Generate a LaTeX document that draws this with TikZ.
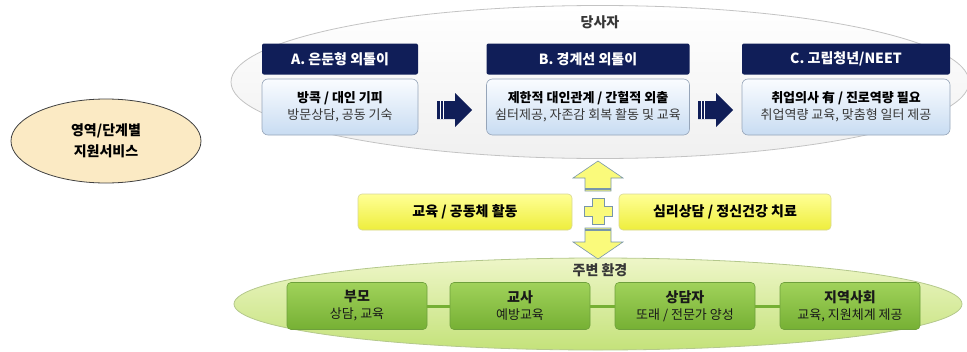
\documentclass[tikz,border=0pt]{standalone}
\usepackage{fontspec}
\setmainfont{Noto Sans CJK KR}
\usetikzlibrary{shapes.geometric}
\definecolor{navy}{RGB}{16,30,88}
\definecolor{bodytop}{RGB}{250,252,255}
\definecolor{bodybot}{RGB}{200,220,242}
\definecolor{bodyline}{RGB}{150,165,185}
\definecolor{ellgrey}{RGB}{240,240,240}
\definecolor{ellline}{RGB}{195,195,195}
\definecolor{peach}{RGB}{251,234,196}
\definecolor{yeltop}{RGB}{255,255,150}
\definecolor{yelbot}{RGB}{238,238,60}
\definecolor{yelline}{RGB}{215,215,150}
\definecolor{arrline}{RGB}{120,150,170}
\definecolor{grntop}{RGB}{238,246,200}
\definecolor{grnbot}{RGB}{196,226,122}
\definecolor{grnline}{RGB}{180,200,140}
\definecolor{boxtop}{RGB}{160,210,90}
\definecolor{boxbot}{RGB}{118,176,52}
\definecolor{boxline}{RGB}{110,160,60}
\definecolor{txtgrey}{RGB}{55,55,55}
\tikzset{
  hdr/.style={fill=navy, text=white, font=\bfseries\fontsize{14}{16}\selectfont,
    minimum height=31pt, rounded corners=2pt, inner sep=0pt},
  bodybox/.style={top color=bodytop, bottom color=bodybot, draw=bodyline, line width=0.6pt,
    rounded corners=6pt, minimum height=56pt, align=center, inner sep=0pt,
    font=\fontsize{13}{17}\selectfont},
  navyarrow/.style={fill=navy},
  yelbox/.style={top color=yeltop, bottom color=yelbot, draw=yelline, line width=0.6pt,
    rounded corners=4pt, minimum height=36pt, inner sep=0pt,
    font=\bfseries\fontsize{14}{16}\selectfont},
  yelarrow/.style={fill=yeltop!70!yelbot, draw=arrline, line width=0.6pt},
  grnbox/.style={top color=boxtop, bottom color=boxbot, draw=boxline, line width=0.6pt,
    rounded corners=4pt, minimum width=140pt, minimum height=47pt, align=center, inner sep=0pt,
    font=\fontsize{13}{17}\selectfont, text=black!90},
  elllabel/.style={font=\bfseries\fontsize{14}{16}\selectfont, text=txtgrey},
}
\begin{document}
\begin{tikzpicture}[x=1pt,y=-1pt]
\useasboundingbox (0,0) rectangle (967,351);

% top ellipse
\node[ellipse, minimum width=738pt, minimum height=153pt, inner sep=0pt,
  top color=white, bottom color=ellgrey, draw=ellline, line width=0.8pt] (topell) at (600,82) {};
\node[elllabel] (tlabel) at (600,22) {당사자};

% headers
\node[hdr, minimum width=156pt] (ha) at (340,59) {A. 은둔형 외톨이};
\node[hdr, minimum width=203pt] (hb) at (588,59) {B. 경계선 외톨이};
\node[hdr, minimum width=208pt] (hc) at (846,59) {C. 고립청년/NEET};

% bodies
\node[bodybox, minimum width=156pt] (ba) at (340,107)
  {\textbf{방콕 / 대인 기피}\\\textcolor{txtgrey}{방문상담, 공동 기숙}};
\node[bodybox, minimum width=203pt] (bb) at (588,107)
  {\textbf{제한적 대인관계 / 간헐적 외출}\\\textcolor{txtgrey}{쉼터제공, 자존감 회복 활동 및 교육}};
\node[bodybox, minimum width=208pt] (bc) at (846,107)
  {\textbf{취업의사 有 / 진로역량 필요}\\\textcolor{txtgrey}{취업역량 교육, 맞춤형 일터 제공}};

% navy arrows
\foreach \x/\n in {437/a1,698/a2}{
  \fill[navyarrow] (\x,101) -- (\x+18,101) -- (\x+18,93) -- (\x+35,110) -- (\x+18,127) -- (\x+18,119) -- (\x,119) -- cycle;
  \draw[white, line width=0.8pt] (\x+3,101) -- (\x+3,119) (\x+6,101) -- (\x+6,119);
  \coordinate (\n) at (\x+17,110);
}

% left ellipse
\node[ellipse, minimum width=190pt, minimum height=84pt, inner sep=0pt, fill=peach,
  draw=black!75, line width=0.8pt, align=center, font=\bfseries\fontsize{14}{21}\selectfont]
  (lell) at (106,141) {영역/단계별\\지원서비스};

% bottom ellipse
\node[ellipse, minimum width=728pt, minimum height=92pt, inner sep=0pt,
  top color=grntop, bottom color=grnbot, draw=grnline, line width=0.8pt] (botell) at (598,304) {};
\node[elllabel] (blabel) at (600,270) {주변 환경};

% green boxes
\node[grnbox] (g1) at (357,306) {\textbf{\fontsize{14}{17}\selectfont 부모}\\상담, 교육};
\node[grnbox] (g2) at (520,306) {\textbf{\fontsize{14}{17}\selectfont 교사}\\예방교육};
\node[grnbox] (g3) at (685,306) {\textbf{\fontsize{14}{17}\selectfont 상담자}\\또래 / 전문가 양성};
\node[grnbox] (g4) at (850,306) {\textbf{\fontsize{14}{17}\selectfont 지역사회}\\교육, 지원체계 제공};
\draw[boxbot, line width=3pt] (g1.east) -- (g2.west);
\draw[boxbot, line width=3pt] (g2.east) -- (g3.west);
\draw[boxbot, line width=3pt] (g3.east) -- (g4.west);

% yellow boxes
\node[yelbox, minimum width=214pt] (y1) at (465,212) {교육 / 공동체 활동};
\node[yelbox, minimum width=212pt] (y2) at (725,212) {심리상담 / 정신건강 치료};

% yellow arrows and plus
\filldraw[yelarrow] (598,161) -- (623,178) -- (611,178) -- (611,191) -- (585,191) -- (585,178) -- (573,178) -- cycle;
\draw[arrline, line width=1.5pt] (585,189) -- (611,189);
\filldraw[yelarrow] (592,198) -- (604,198) -- (604,206) -- (612,206) -- (612,216) -- (604,216) -- (604,224) -- (592,224) -- (592,216) -- (584,216) -- (584,206) -- (592,206) -- cycle;
\filldraw[yelarrow] (585,228) -- (611,228) -- (611,242) -- (623,242) -- (598,259) -- (573,242) -- (585,242) -- cycle;
\draw[arrline, line width=1.5pt] (585,230) -- (611,230);
\coordinate (plus) at (598,211);
\end{tikzpicture}
\end{document}
